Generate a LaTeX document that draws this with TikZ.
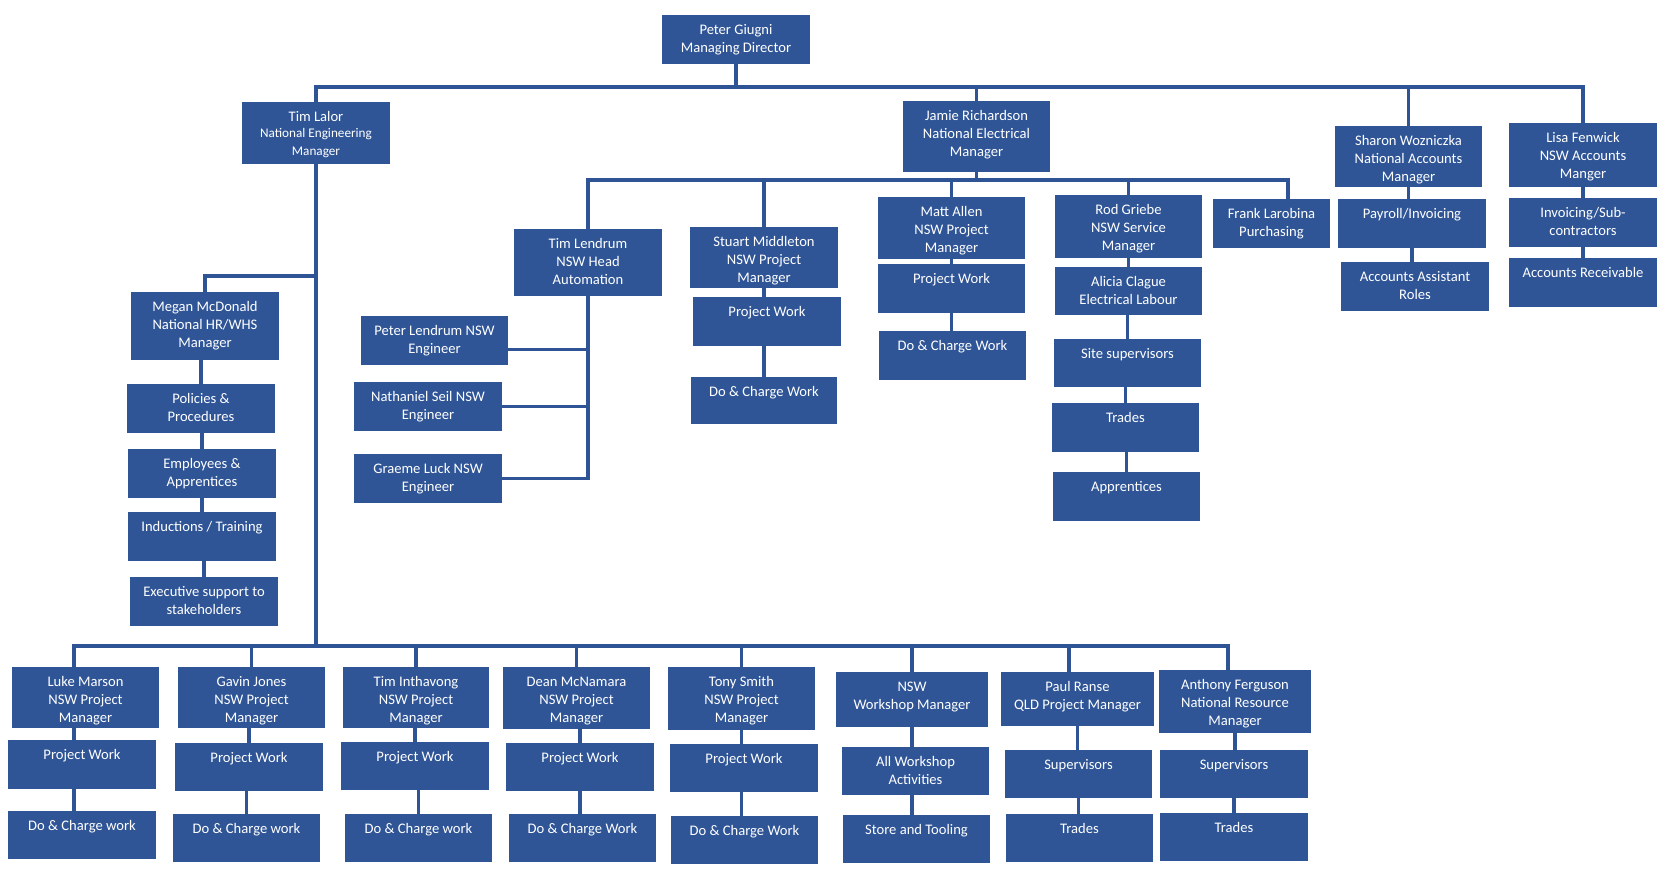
\documentclass[tikz,border=0pt]{standalone}
\usepackage{fontspec}
\setmainfont{Carlito}
\usetikzlibrary{calc}
\pgfdeclarelayer{bg}
\pgfdeclarelayer{wires}
\pgfsetlayers{bg,wires,main}
\definecolor{boxblue}{RGB}{47,85,151}
\definecolor{wireblue}{RGB}{47,84,150}
\tikzset{
  orgcard/.style={fill=boxblue, draw=none, inner sep=0pt, outer sep=0pt,
    text=white, font=\fontsize{7.3}{8.9}\selectfont},
  wire/.style={draw=wireblue, line width=1.6pt, line cap=rect}
}
\newcommand\orgbox[6]{%
  \pgfmathsetmacro\obw{(#4-#2)*0.5}%
  \pgfmathsetmacro\obh{(#5-#3)*0.5}%
  \node[orgcard, anchor=north west] (#1) at (#2,#3)
    {\parbox[t][\obh pt][t]{\obw pt}{\centering\rule{0pt}{9.9pt}#6\par}};}
\begin{document}
\begin{tikzpicture}[x=0.5pt,y=-0.5pt]
\begin{pgfonlayer}{bg}
\fill[white] (0,0) rectangle (1665,879);
\end{pgfonlayer}
\useasboundingbox (0,0) rectangle (1665,879);

% top level
\orgbox{pg}{662}{15}{810}{64}{Peter Giugni\\Managing Director}
\orgbox{tl}{242}{102}{390}{164}{Tim Lalor\\{\fontsize{6.6}{8}\selectfont National Engineering\\Manager}}
\orgbox{jr}{903}{101}{1050}{172}{Jamie Richardson\\National Electrical\\Manager}
\orgbox{sw}{1335}{126}{1482}{187}{Sharon Wozniczka\\National Accounts\\Manager}
\orgbox{lf}{1509}{123}{1657}{187}{Lisa Fenwick\\NSW Accounts\\Manger}
\orgbox{pay}{1338}{199}{1486}{248}{Payroll/Invoicing}
\orgbox{aar}{1341}{262}{1489}{311}{Accounts Assistant\\Roles}
\orgbox{inv}{1509}{198}{1657}{247}{Invoicing/Sub-\\contractors}
\orgbox{arec}{1509}{258}{1657}{307}{Accounts Receivable}

% Jamie's group
\orgbox{tle}{514}{229}{662}{296}{Tim Lendrum\\NSW Head\\Automation}
\orgbox{sm}{690}{227}{838}{288}{Stuart Middleton\\NSW Project\\Manager}
\orgbox{smpw}{693}{297}{841}{346}{Project Work}
\orgbox{smdc}{691}{377}{837}{424}{Do \& Charge Work}
\orgbox{ma}{878}{197}{1025}{259}{Matt Allen\\NSW Project\\Manager}
\orgbox{mapw}{878}{264}{1025}{313}{Project Work}
\orgbox{madc}{879}{331}{1026}{380}{Do \& Charge Work}
\orgbox{rg}{1055}{195}{1202}{258}{Rod Griebe\\NSW Service\\Manager}
\orgbox{ac}{1055}{267}{1202}{315}{Alicia Clague\\Electrical Labour}
\orgbox{ss}{1054}{339}{1201}{387}{Site supervisors}
\orgbox{rtr}{1052}{403}{1199}{452}{Trades}
\orgbox{app}{1053}{472}{1200}{521}{Apprentices}
\orgbox{fl}{1213}{199}{1330}{248}{Frank Larobina\\Purchasing}
\orgbox{plen}{361}{316}{508}{365}{Peter Lendrum NSW\\Engineer}
\orgbox{ns}{354}{382}{502}{431}{Nathaniel Seil NSW\\Engineer}
\orgbox{gl}{354}{454}{502}{503}{Graeme Luck NSW\\Engineer}

% HR column
\orgbox{mm}{131}{292}{279}{360}{Megan McDonald\\National HR/WHS\\Manager}
\orgbox{pp}{127}{384}{275}{433}{Policies \&\\Procedures}
\orgbox{ea}{128}{449}{276}{498}{Employees \&\\Apprentices}
\orgbox{it}{128}{512}{276}{561}{Inductions / Training}
\orgbox{es}{130}{577}{278}{626}{Executive support to\\stakeholders}

% bottom row
\orgbox{lm}{12}{667}{159}{728}{Luke Marson\\NSW Project\\Manager}
\orgbox{lmpw}{8}{740}{156}{789}{Project Work}
\orgbox{lmdc}{8}{811}{156}{859}{Do \& Charge work}
\orgbox{gj}{178}{667}{325}{728}{Gavin Jones\\NSW Project\\Manager}
\orgbox{gjpw}{175}{743}{323}{791}{Project Work}
\orgbox{gjdc}{173}{814}{320}{862}{Do \& Charge work}
\orgbox{ti}{343}{667}{489}{728}{Tim Inthavong\\NSW Project\\Manager}
\orgbox{tipw}{341}{742}{489}{790}{Project Work}
\orgbox{tidc}{345}{814}{492}{862}{Do \& Charge work}
\orgbox{dm}{503}{667}{650}{729}{Dean McNamara\\NSW Project\\Manager}
\orgbox{dmpw}{506}{743}{654}{791}{Project Work}
\orgbox{dmdc}{509}{814}{656}{862}{Do \& Charge Work}
\orgbox{ts}{668}{667}{815}{730}{Tony Smith\\NSW Project\\Manager}
\orgbox{tspw}{670}{744}{818}{792}{Project Work}
\orgbox{tsdc}{671}{816}{818}{864}{Do \& Charge Work}
\orgbox{nw}{836}{672}{988}{727}{NSW\\Workshop Manager}
\orgbox{nwaw}{842}{747}{989}{795}{All Workshop\\Activities}
\orgbox{nwst}{843}{815}{990}{863}{Store and Tooling}
\orgbox{pr}{1001}{672}{1154}{726}{Paul Ranse\\QLD Project Manager}
\orgbox{prsu}{1005}{750}{1152}{798}{Supervisors}
\orgbox{prtr}{1006}{814}{1153}{862}{Trades}
\orgbox{af}{1159}{670}{1311}{733}{Anthony Ferguson\\National Resource\\Manager}
\orgbox{afsu}{1160}{750}{1308}{798}{Supervisors}
\orgbox{aftr}{1160}{813}{1308}{861}{Trades}

% junction points
\coordinate (tbL) at (316,87);
\coordinate (jbarR) at (1288,180);
\coordinate (mj) at (316,276);
\coordinate (bbL) at (74,646);
\coordinate (bbR) at (1228,646);
\coordinate (prj) at (1069,646);

\begin{pgfonlayer}{wires}
% top level
\draw[wire] (pg.south) -- (pg.south |- tbL);
\draw[wire] (tl.north) |- (lf.north |- tbL) -- (lf.north);
\draw[wire] (jr.north) -- (jr.north |- tbL);
\draw[wire] (sw.north) -- (sw.north |- tbL);
% accounts
\draw[wire] (sw.south) -- (sw.south |- pay.north);
\draw[wire] (pay.south) -- (pay.south |- aar.north);
\draw[wire] (lf.south) -- (inv.north);
\draw[wire] (inv.south) -- (arec.north);
% Jamie's group
\draw[wire] (tle.north) |- (jbarR) -- (jbarR |- fl.north);
\draw[wire] (jr.south) -- (jr.south |- jbarR);
\draw[wire] (sm.north) -- (sm.north |- jbarR);
\draw[wire] (ma.north) -- (ma.north |- jbarR);
\draw[wire] (rg.north) -- (rg.north |- jbarR);
\draw[wire] (sm.south) -- (sm.south |- smpw.north);
\draw[wire] (sm.south |- smpw.south) -- (sm.south |- smdc.north);
\draw[wire] (ma.south) -- (ma.south |- mapw.north);
\draw[wire] (mapw.south) -- (mapw.south |- madc.north);
\draw[wire] (ac.north) -- (ac.north |- rg.south);
\draw[wire] (ss.north) -- (ss.north |- ac.south);
\draw[wire] (rtr.north) -- (rtr.north |- ss.south);
\draw[wire] (app.north) -- (app.north |- rtr.south);
% automation
\draw[wire] (tle.south) -- (tle.south |- gl.east) -- (gl.east);
\draw[wire] ([yshift=-4.5pt]plen.east) coordinate (pe) -- (pe -| tle.south);
\draw[wire] (ns.east) -- (ns.east -| tle.south);
% engineering trunk and HR
\draw[wire] (tl.south) -- (tl.south |- bbL);
\draw[wire] (mj) -| (mm.north);
\draw[wire] (pp.north) -- (pp.north |- mm.south);
\draw[wire] (ea.north) -- (ea.north |- pp.south);
\draw[wire] (it.north) -- (it.north |- ea.south);
\draw[wire] (es.north) -- (es.north |- it.south);
% bottom bar
\draw[wire] (bbL |- lm.north) |- (bbR) -- (bbR |- af.north);
\draw[wire] (gj.north) -- (gj.north |- bbL);
\draw[wire] (ti.north) -- (ti.north |- bbL);
\draw[wire] (dm.north) -- (dm.north |- bbL);
\draw[wire] (ts.north) -- (ts.north |- bbL);
\draw[wire] (nw.north) -- (nw.north |- bbL);
\draw[wire] (prj) -- (prj |- pr.north);
% bottom columns
\draw[wire] (bbL |- lm.south) -- (bbL |- lmpw.north);
\draw[wire] (bbL |- lmpw.south) -- (bbL |- lmdc.north);
\draw[wire] (gjpw.north) -- (gjpw.north |- gj.south);
\draw[wire] (gjdc.north) -- (gjdc.north |- gjpw.south);
\draw[wire] (tipw.north) -- (tipw.north |- ti.south);
\draw[wire] (tidc.north) -- (tidc.north |- tipw.south);
\draw[wire] (dmpw.north) -- (dmpw.north |- dm.south);
\draw[wire] (dmpw.south) -- (dmpw.south |- dmdc.north);
\draw[wire] (ts.south) -- (ts.south |- tspw.north);
\draw[wire] (ts.south |- tspw.south) -- (ts.south |- tsdc.north);
\draw[wire] (nw.south) -- (nw.south |- nwaw.north);
\draw[wire] (nw.south |- nwaw.south) -- (nw.south |- nwst.north);
\draw[wire] (pr.south) -- (pr.south |- prsu.north);
\draw[wire] (prsu.south) -- (prsu.south |- prtr.north);
\draw[wire] (af.south) -- (af.south |- afsu.north);
\draw[wire] (afsu.south) -- (afsu.south |- aftr.north);
\end{pgfonlayer}
\end{tikzpicture}
\end{document}
